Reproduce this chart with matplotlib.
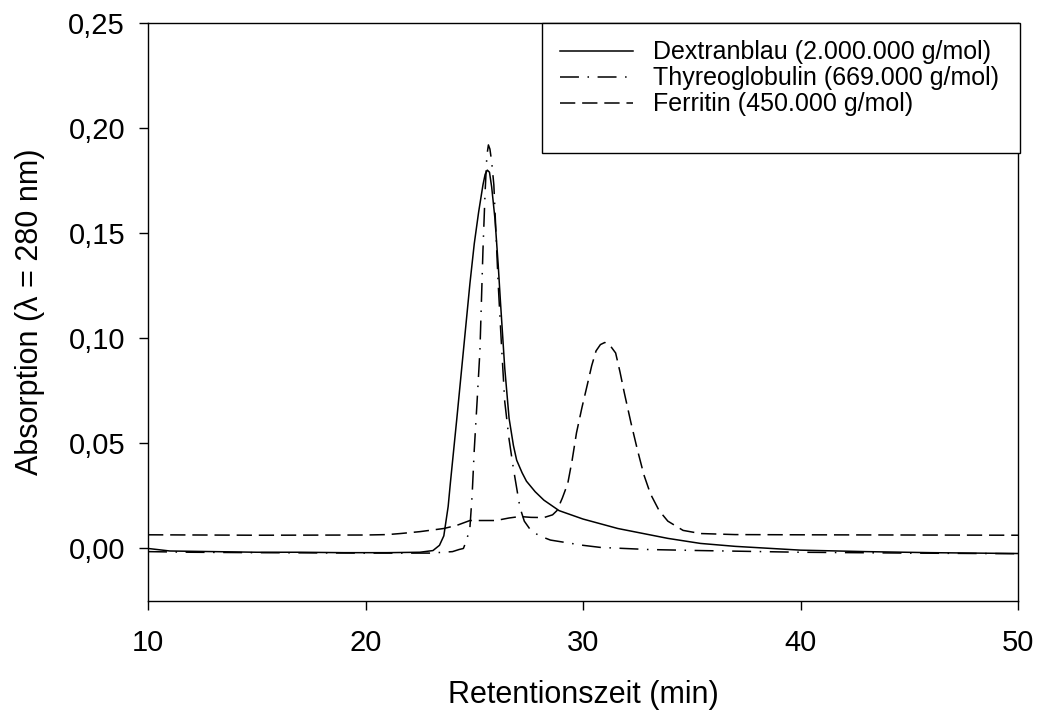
import numpy as np
import matplotlib
matplotlib.use("Agg")
import matplotlib.pyplot as plt
from matplotlib.patches import Rectangle

plt.rcParams['font.family'] = ['Liberation Sans', 'DejaVu Sans']

# Dextranblau (solid)
x_dex = [10, 11, 13, 15, 17, 19, 21, 22.5, 23.1, 23.4, 23.6, 23.8, 23.9, 24.2, 24.5,
         24.8, 25.0, 25.2, 25.4, 25.5, 25.6, 25.7, 25.8, 25.95, 26.1, 26.2, 26.4,
         26.6, 26.8, 26.95, 27.2, 27.4, 27.8, 28.2, 28.9, 30, 31.6, 33.9, 35.4, 37,
         40, 43, 46, 50]
y_dex = [0.0000, -0.0012, -0.0015, -0.0018, -0.0018, -0.0020, -0.0020, -0.0018,
         -0.0010, 0.0015, 0.006, 0.020, 0.031, 0.062, 0.094, 0.126, 0.145, 0.160,
         0.173, 0.178, 0.180, 0.179, 0.172, 0.157, 0.135, 0.118, 0.086, 0.062,
         0.049, 0.042, 0.036, 0.032, 0.027, 0.023, 0.018, 0.014, 0.0095, 0.0048,
         0.0024, 0.0010, -0.0008, -0.0015, -0.0020, -0.0024]

# Thyreoglobulin (dash-dot)
x_thy = [10, 12, 15, 20, 23, 24.0, 24.3, 24.5, 24.65, 24.8, 24.9, 25.0, 25.13, 25.26,
         25.4, 25.5, 25.58, 25.65, 25.72, 25.8, 25.9, 26.1, 26.25, 26.4, 26.6, 26.8,
         27.1, 27.3, 27.6, 28.0, 28.5, 30.0, 30.8, 33, 35.4, 40, 45, 50]
y_thy = [-0.0015, -0.0018, -0.0020, -0.0022, -0.0022, -0.0015, -0.0005, 0.000,
         0.004, 0.010, 0.025, 0.047, 0.070, 0.094, 0.142, 0.170, 0.187, 0.192,
         0.190, 0.184, 0.173, 0.126, 0.097, 0.070, 0.052, 0.038, 0.0195, 0.013,
         0.0086, 0.0060, 0.004, 0.0015, 0.0005, -0.0005, -0.0010, -0.0018, -0.0022,
         -0.0025]

# Ferritin (dashed)
x_fer = [10, 15, 20, 21, 21.6, 22.5, 23.6, 24.2, 24.8, 26.0, 26.6, 27.1, 27.6, 28.2,
         28.6, 28.8, 29.05, 29.3, 29.5, 29.7, 29.95, 30.2, 30.4, 30.6, 30.8, 31.0,
         31.25, 31.5, 31.7, 31.9, 32.2, 32.5, 32.8, 33.1, 33.5, 33.9, 34.6, 35.4,
         37, 40, 45, 50]
y_fer = [0.0065, 0.0063, 0.0064, 0.0066, 0.0071, 0.0080, 0.0095, 0.011, 0.0133,
         0.0133, 0.0145, 0.0152, 0.0148, 0.0147, 0.016, 0.018, 0.024, 0.031, 0.042,
         0.055, 0.067, 0.078, 0.087, 0.094, 0.097, 0.098, 0.0965, 0.093, 0.084,
         0.074, 0.060, 0.047, 0.035, 0.026, 0.018, 0.013, 0.0086, 0.0071, 0.0066,
         0.0065, 0.0064, 0.0063]

labels = ["Dextranblau (2.000.000 g/mol)",
          "Thyreoglobulin (669.000 g/mol)",
          "Ferritin (450.000 g/mol)"]

xticks = [10, 20, 30, 40, 50]
yticks = [0.00, 0.05, 0.10, 0.15, 0.20, 0.25]
ytick_labels = ["0,00", "0,05", "0,10", "0,15", "0,20", "0,25"]

fig = plt.figure(figsize=(10.41, 7.19), dpi=100)
ax = fig.add_axes([0.1422, 0.1641, 0.8357, 0.8039])

lw = 1.1
ax.plot(x_dex, y_dex, color='black', linewidth=lw, label=labels[0])
ax.plot(x_thy, y_thy, color='black', linewidth=lw, dashes=(12.4, 5.6, 1, 5.6), label=labels[1])
ax.plot(x_fer, y_fer, color='black', linewidth=lw, dashes=(10, 4.5), label=labels[2])

ax.set_xlim(10, 50)
ax.set_ylim(-0.025, 0.25)
ax.set_xticks(xticks)
ax.set_yticks(yticks)
ax.set_yticklabels(ytick_labels)
ax.tick_params(direction='out', length=6.5, width=1, labelsize=21, colors='black')
ax.tick_params(axis='x', pad=14)
ax.tick_params(axis='y', pad=10)
for s in ax.spines.values():
    s.set_linewidth(1)

ax.set_xlabel("Retentionszeit (min)", fontsize=22, labelpad=16)
ax.set_ylabel("Absorption (\u03bb = 280 nm)", fontsize=22, labelpad=17)

# legend box (frame drawn separately)
ax.add_patch(Rectangle((0.5207, 0.7872), 0.4591, 0.1808, transform=fig.transFigure,
                       facecolor='white', edgecolor='black', linewidth=1,
                       zorder=5, clip_on=False))
leg = ax.legend(loc='upper left', bbox_to_anchor=(0.5380, 0.944),
                bbox_transform=fig.transFigure, fontsize=18, frameon=False,
                handlelength=2.9, handletextpad=0.8, borderpad=0, borderaxespad=0,
                labelspacing=0.08)
leg.set_zorder(6)

fig.savefig("out.png", dpi=100)
